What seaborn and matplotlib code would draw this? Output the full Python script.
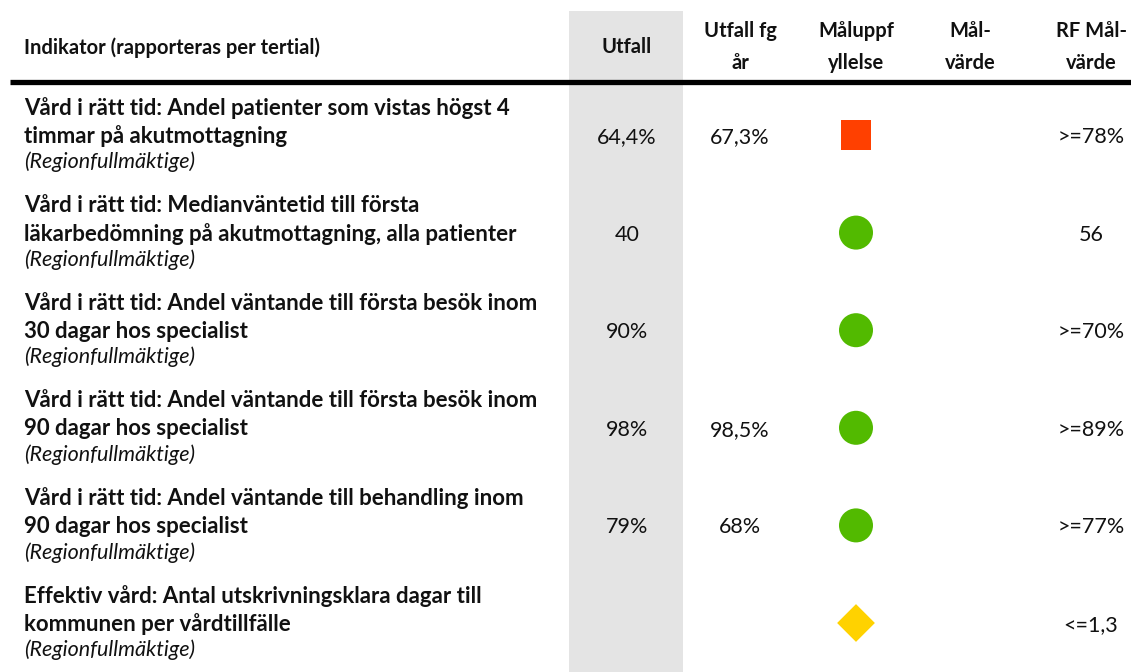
import matplotlib
matplotlib.use("Agg")
import matplotlib.pyplot as plt
import seaborn as sns
import pandas as pd

# data for the indicator table
indikatorer = [
    "Vård i rätt tid: Andel patienter som vistas högst 4\ntimmar på akutmottagning",
    "Vård i rätt tid: Medianväntetid till första\nläkarbedömning på akutmottagning, alla patienter",
    "Vård i rätt tid: Andel väntande till första besök inom\n30 dagar hos specialist",
    "Vård i rätt tid: Andel väntande till första besök inom\n90 dagar hos specialist",
    "Vård i rätt tid: Andel väntande till behandling inom\n90 dagar hos specialist",
    "Effektiv vård: Antal utskrivningsklara dagar till\nkommunen per vårdtillfälle",
]
beslutsniva = ["(Regionfullmäktige)"] * 6
utfall = ["64,4%", "40", "90%", "98%", "79%", ""]
utfall_fg_ar = ["67,3%", "", "", "98,5%", "68%", ""]
maluppfyllelse = ["röd", "grön", "grön", "grön", "grön", "gul"]
malvarde = ["", "", "", "", "", ""]
rf_malvarde = [">=78%", "56", ">=70%", ">=89%", ">=77%", "<=1,3"]

kolumner = ["Indikator (rapporteras per tertial)", "Utfall", "Utfall fg\når",
            "Måluppf\nyllelse", "Mål-\nvärde", "RF Mål-\nvärde"]

sns.set_style("white")
plt.rcParams["font.family"] = ["Lato", "DejaVu Sans"]

W, H = 1131, 672
fig = plt.figure(figsize=(W / 100, H / 100), dpi=100)
ax = fig.add_axes([0, 0, 1, 1])

txt = "#111111"
fs_head, fs_bold, fs_val = 14.5, 16.0, 15.5
col_x = [24, 627, 740, 856, 970, 1091]
rad_y0, rad_h = 135, 97.6

# grey band behind "Utfall"
ax.axvspan(569, 683, ymin=0, ymax=1 - 11 / H, color="#E4E4E4", lw=0, zorder=0)

# header
ax.text(col_x[0], 48, kolumner[0], ha="left", va="center", fontsize=fs_head,
        fontweight="bold", color=txt)
for i in range(1, 6):
    ax.text(col_x[i], 47, kolumner[i], ha="center", va="center", fontsize=fs_head,
            fontweight="bold", color=txt, linespacing=1.75)
ax.plot([10, W], [82, 82], color="black", lw=3.8, solid_capstyle="butt")

df = pd.DataFrame({
    "indikator": indikatorer,
    "niva": beslutsniva,
    "utfall": utfall,
    "fg": utfall_fg_ar,
    "status": maluppfyllelse,
    "mal": malvarde,
    "rf": rf_malvarde,
})
df["y"] = [rad_y0 + rad_h * i for i in range(len(df))]
df["x"] = col_x[3]

for _, r in df.iterrows():
    rader = r["indikator"].split("\n")
    for j, rad in enumerate(rader):
        ax.text(col_x[0], r["y"] - 27 + 28 * j, rad, ha="left", va="center",
                fontsize=fs_bold, fontweight="bold", color=txt)
    ax.text(col_x[0], r["y"] + 27, r["niva"], ha="left", va="center",
            fontsize=fs_val, fontstyle="italic", color=txt)
    ax.text(col_x[1], r["y"] + 2, r["utfall"], ha="center", va="center", fontsize=fs_val, color=txt)
    ax.text(col_x[2], r["y"] + 2, r["fg"], ha="center", va="center", fontsize=fs_val, color=txt)
    ax.text(col_x[4], r["y"] + 2, r["mal"], ha="center", va="center", fontsize=fs_val, color=txt)
    ax.text(col_x[5], r["y"] + 2, r["rf"], ha="center", va="center", fontsize=fs_val, color=txt)

sns.scatterplot(data=df, x="x", y="y", hue="status", style="status", size="status",
                palette={"röd": "#FF4000", "grön": "#52BA00", "gul": "#FFD200"},
                markers={"röd": "s", "grön": "o", "gul": "D"},
                sizes={"röd": 440, "grön": 600, "gul": 370},
                linewidth=0, legend=False, ax=ax, zorder=3)
ax.set_xlim(0, W)
ax.set_ylim(H, 0)
ax.axis("off")

fig.savefig("out.png", dpi=100)
